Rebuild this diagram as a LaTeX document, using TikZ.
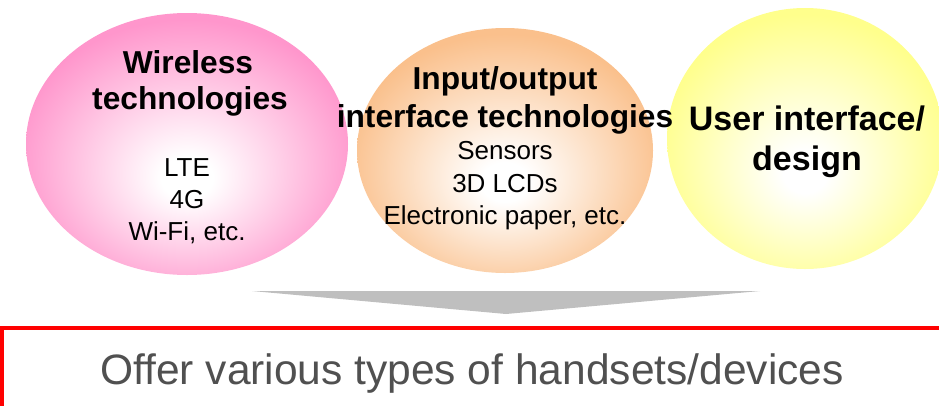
\documentclass[tikz,border=0pt]{standalone}
\usepackage{fontspec}
\setmainfont{Liberation Sans}
\usetikzlibrary{shapes.geometric}

\definecolor{ballpink}{RGB}{255,150,204}
\definecolor{ballorange}{RGB}{250,192,140}
\definecolor{ballyellow}{RGB}{255,255,140}
\definecolor{arrowgray}{RGB}{191,191,191}
\definecolor{textgray}{RGB}{80,80,80}

% radial glows with the bright spot a little below the middle
\pgfdeclareradialshading{pinkglow}{\pgfpoint{0bp}{-7bp}}{color(0bp)=(white); color(4bp)=(white); color(27bp)=(ballpink); color(50bp)=(ballpink)}
\pgfdeclareradialshading{orangeglow}{\pgfpoint{0bp}{-7bp}}{color(0bp)=(white); color(4bp)=(white); color(27bp)=(ballorange); color(50bp)=(ballorange)}
\pgfdeclareradialshading{yellowglow}{\pgfpoint{0bp}{-7bp}}{color(0bp)=(white); color(4bp)=(white); color(27bp)=(ballyellow); color(50bp)=(ballyellow)}

\tikzset{
  ball/.style={ellipse, inner sep=0pt, draw=none, shade, shading=#1},
  headline/.style={anchor=base, inner sep=0pt, font=\bfseries\fontsize{31.7}{38}\selectfont},
  bigheadline/.style={anchor=base, inner sep=0pt, font=\bfseries\fontsize{34}{40}\selectfont},
  item/.style={anchor=base, inner sep=0pt, font=\fontsize{26}{32}\selectfont},
  arrowbar/.style={fill=arrowgray, draw=none},
  framebox/.style={draw=red, line width=4pt},
  result/.style={anchor=base, inner sep=0pt, text=textgray, font=\fontsize{42.5}{50}\selectfont}
}

\begin{document}
\begin{tikzpicture}[x=1pt, y=-1pt]
\useasboundingbox (0,0) rectangle (939,405);
\clip (0,0) rectangle (939,405);

% three technology areas
\node[ball=pinkglow, minimum width=322, minimum height=262] (wireless) at (187,144) {};
\node[ball=orangeglow, minimum width=296, minimum height=245] (io) at (505,150.5) {};
\node[ball=yellowglow, minimum width=276, minimum height=261] (ui) at (805,138.5) {};

% wireless technologies
\node[headline] (w1) at (188,73) {Wireless};
\node[headline] (w2) at (190,109) {technologies};
\node[item] (w3) at (187,176) {LTE};
\node[item] (w4) at (187,208) {4G};
\node[item] (w5) at (187,240) {Wi-Fi, etc.};

% input/output interface technologies
\node[headline] (i1) at (505,89) {Input/output};
\node[headline] (i2) at (505,127) {interface technologies};
\node[item] (i3) at (505,159) {Sensors};
\node[item] (i4) at (505,192) {3D LCDs};
\node[item] (i5) at (505,224) {Electronic paper, etc.};

% user interface / design
\node[bigheadline] (u1) at (807,130) {User interface/};
\node[bigheadline] (u2) at (807,170) {design};

% flattened arrow pointing down to the result
\coordinate (aL) at (252,291);
\coordinate (aR) at (760,291);
\coordinate (aT) at (506,314);
\fill[arrowbar] (aL) -- (aR) -- (aT) -- cycle;

% result frame, running past the right and bottom edges
\coordinate (fA) at (2,328);
\coordinate (fB) at (950,420);
\draw[framebox] (fA) rectangle (fB);
\node[result] (offer) at (472,384) {Offer various types of handsets/devices};
\end{tikzpicture}
\end{document}
